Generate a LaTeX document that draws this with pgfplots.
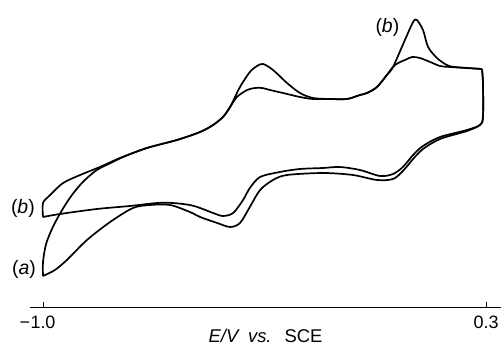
\documentclass[border=0pt]{standalone}
\usepackage{fontspec}
\setmainfont{Liberation Sans}
\usepackage{pgfplots}
\pgfplotsset{compat=1.18}
\tikzset{cv/.style={black, line width=1.7pt, smooth, tension=0.5, mark=none}}
\begin{document}
\begin{tikzpicture}
\begin{axis}[
 scale only axis, width=471bp, height=308bp,
 xmin=-1.0381, xmax=0.3439, ymin=-2, ymax=306,
 axis x line=bottom, axis y line=none,
 x axis line style={-, line width=1pt},
 xtick={-1,0.3}, xticklabels={\llap{−\kern0.5pt}1.0,0.3},
 tick align=inside, major tick length=6bp,
 xtick style={line width=1pt, black},
 ytick=\empty,
 xticklabel style={font=\fontsize{18}{21}\selectfont, yshift=-4bp},
 xlabel={\textit{E/V}\hspace{0.45em}\textit{vs.}\hspace{0.7em}SCE},
 xlabel style={font=\fontsize{18.5}{21}\selectfont, at={(axis description cs:0.5,0)}, anchor=center, yshift=-28bp},
 clip=false,
]
% curve (b) forward sweep
\addplot[cv] coordinates {
(-1.000,89) (-1.000,103) (-0.979,111) (-0.941,123) (-0.891,131) (-0.833,139)
(-0.774,148) (-0.695,158) (-0.607,166) (-0.539,174) (-0.501,181) (-0.472,189)
(-0.451,199) (-0.422,219) (-0.393,234) (-0.372,240) (-0.354,242) (-0.325,236)
(-0.284,223) (-0.246,213) (-0.208,208) (-0.158,207) (-0.108,207) (-0.070,211)
(-0.049,213) (-0.020,219) (0.009,231) (0.027,239) (0.062,266) (0.086,284)
(0.097,286) (0.115,276) (0.130,259) (0.156,248) (0.185,241) (0.209,239) (0.288,237)
};
% curve (b) return sweep
\addplot[cv] coordinates {
(0.288,237) (0.291,223) (0.291,189) (0.282,181) (0.244,176) (0.165,169)
(0.115,160) (0.086,151) (0.056,139) (0.027,132) (-0.011,130) (-0.070,136)
(-0.129,139) (-0.178,138) (-0.246,137) (-0.305,134) (-0.363,129) (-0.393,118)
(-0.413,106) (-0.442,93) (-0.472,90) (-0.501,93) (-0.539,98) (-0.569,101)
(-0.619,103) (-0.665,103) (-0.745,100) (-0.842,97) (-0.950,92) (-1.000,89)
};
% curve (a) forward sweep
\addplot[cv] coordinates {
(-1.000,30) (-1.000,44) (-0.991,62) (-0.971,79) (-0.944,96) (-0.915,111)
(-0.883,124) (-0.842,136) (-0.795,144) (-0.765,149) (-0.695,158) (-0.607,166)
(-0.539,174) (-0.501,181) (-0.472,189) (-0.451,199) (-0.431,209) (-0.401,216)
(-0.378,218) (-0.357,218) (-0.334,216) (-0.296,213) (-0.246,209) (-0.208,207)
(-0.158,207) (-0.108,207) (-0.070,211) (-0.049,213) (-0.020,219) (0.009,231)
(0.027,239) (0.042,243) (0.062,246) (0.083,249) (0.106,248) (0.136,244)
(0.165,240) (0.194,239) (0.288,237)
};
% curve (a) return sweep
\addplot[cv] coordinates {
(0.288,237) (0.291,223) (0.291,189) (0.282,181) (0.244,175) (0.165,167)
(0.115,157) (0.086,147) (0.056,135) (0.027,127) (-0.020,126) (-0.091,131)
(-0.178,133) (-0.284,131) (-0.325,126) (-0.363,116) (-0.393,99) (-0.422,83)
(-0.451,79) (-0.489,83) (-0.539,89) (-0.569,94) (-0.627,101) (-0.686,101)
(-0.736,98) (-0.803,84) (-0.871,66) (-0.930,46) (-0.965,36) (-1.000,30)
};
\node[font=\fontsize{19.5}{22}\selectfont] at (axis cs:-1.059,98) {(\textit{b})};
\node[font=\fontsize{19.5}{22}\selectfont] at (axis cs:-1.056,37) {(\textit{a})};
\node[font=\fontsize{19.5}{22}\selectfont] at (axis cs:0.0105,279) {(\textit{b})};
\coordinate (bl) at (axis cs:-1.1262,-40);
\coordinate (tr) at (axis cs:0.3498,306);
\end{axis}
\pgfresetboundingbox
\path[use as bounding box] (bl) rectangle (tr);
\end{tikzpicture}
\end{document}
